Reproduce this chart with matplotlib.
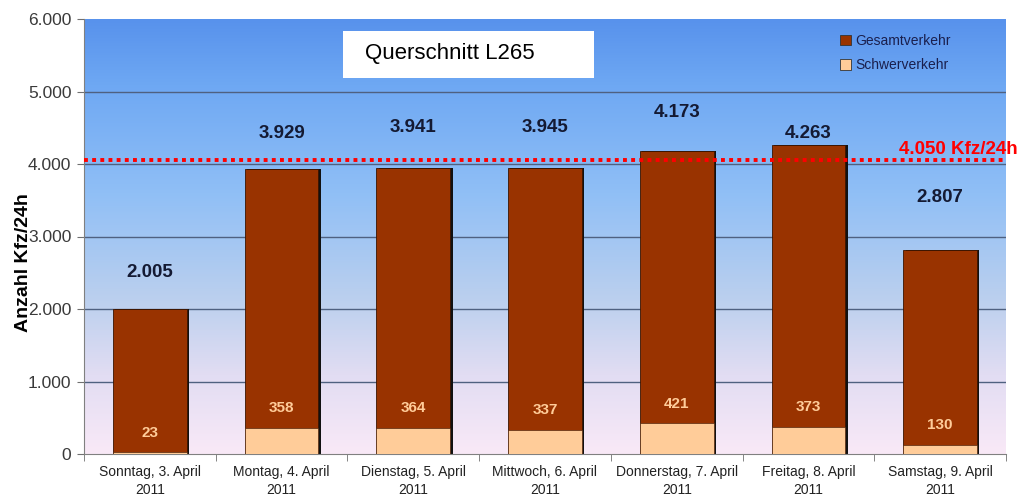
import numpy as np
import matplotlib
matplotlib.use("Agg")
import matplotlib.pyplot as plt
from matplotlib.colors import LinearSegmentedColormap
from matplotlib.patches import Rectangle, Patch

plt.rcParams["font.family"] = ["Liberation Sans", "DejaVu Sans"]

days = ["Sonntag, 3. April\n2011", "Montag, 4. April\n2011", "Dienstag, 5. April\n2011",
        "Mittwoch, 6. April\n2011", "Donnerstag, 7. April\n2011", "Freitag, 8. April\n2011",
        "Samstag, 9. April\n2011"]
gesamt = [2005, 3929, 3941, 3945, 4173, 4263, 2807]
schwer = [23, 358, 364, 337, 421, 373, 130]
grenzwert = 4050

def de(v): return f"{v:,}".replace(",", ".")

BROWN = "#993300"
PEACH = "#FFCC99"
NAVY = "#141a33"

fig = plt.figure(figsize=(10.19, 4.97), dpi=100)
ax = fig.add_axes([84/1019, 43/497, 922/1019, 435/497])

x = np.arange(len(days))
ax.set_xlim(-0.5, len(days) - 0.5)
ax.set_ylim(0, 6000)

# background gradient
cmap = LinearSegmentedColormap.from_list("bg", [
    (0.0, "#f9e9f7"), (0.18, "#e2ddf3"), (0.35, "#bcd0ee"),
    (0.6, "#90bff6"), (0.85, "#6ea8f3"), (1.0, "#5892ec")])
grad = np.linspace(0, 1, 256).reshape(-1, 1)
ax.imshow(grad, cmap=cmap, origin="lower", aspect="auto",
          extent=(-0.5, len(days) - 0.5, 0, 6000), zorder=0)

for yv in range(1000, 6000, 1000):
    ax.axhline(yv, color="#4f6180", lw=1.0, zorder=1)

w = 0.56
ax.bar(x + 0.018, gesamt, width=w, color="#111111", zorder=2)
ax.bar(x, gesamt, width=w, color=BROWN, edgecolor="#3a1400", linewidth=0.6, zorder=3)
ax.bar(x, schwer, width=w, color=PEACH, edgecolor="#3a1400", linewidth=0.4, zorder=4)

# value labels (per-bar vertical offsets in points)
tot_off = [26, 26, 29, 29, 28, 8, 38]
for xi, g, o in zip(x, gesamt, tot_off):
    ax.annotate(de(g), (xi, g), xytext=(0, o), textcoords="offset points",
                ha="center", va="center", fontsize=13.5, fontweight="bold", color=NAVY, zorder=6)
for xi, s in zip(x, schwer):
    ax.text(xi, s + 270, de(s), ha="center", va="center", fontsize=11,
            fontweight="bold", color=PEACH, zorder=6)

ax.axhline(grenzwert, color="#ff0000", lw=2.8, ls=(0, (1, 1.1)), zorder=5)
fig.text(1018/1019, 1 - 150/497, "4.050 Kfz/24h", ha="right", va="center",
         fontsize=13.5, fontweight="bold", color="#ff0000")

ax.set_yticks(range(0, 6001, 1000))
ax.set_yticklabels([de(v) for v in range(0, 6001, 1000)], fontsize=12.5, color="#3a3a3a")
ax.set_xticks(x)
ax.set_xticklabels(days, fontsize=10, color="#222222", linespacing=1.35)
ax.tick_params(axis="x", length=0, pad=8)
ax.tick_params(axis="y", length=5, color="#707070", pad=4)
ax.set_xticks(np.arange(-0.5, len(days)), minor=True)
ax.tick_params(axis="x", which="minor", length=5, color="#707070")
ax.set_ylabel("Anzahl Kfz/24h", fontsize=14, fontweight="bold")
ax.yaxis.set_label_coords(-52/922, 0.44)
for sp in ["top", "right"]:
    ax.spines[sp].set_visible(False)
for sp in ["left", "bottom"]:
    ax.spines[sp].set_color("#808080")

# title box
fig.patches.append(Rectangle((343/1019, 1 - 78/497), 251/1019, 47/497,
                             transform=fig.transFigure, facecolor="white", edgecolor="none", zorder=5))
fig.text(365/1019, 1 - 54/497, "Querschnitt L265", ha="left", va="center",
         fontsize=16, color="black", zorder=6)

handles = [Patch(facecolor=BROWN, edgecolor="#333333", lw=0.6),
           Patch(facecolor=PEACH, edgecolor="#333333", lw=0.6)]
leg = ax.legend(handles, ["Gesamtverkehr", "Schwerverkehr"], loc="upper left",
                bbox_to_anchor=(830/1019, 1 - 24/497), bbox_transform=fig.transFigure,
                frameon=False, fontsize=10, handlelength=0.8, handleheight=0.8,
                handletextpad=0.3, labelspacing=0.75, borderpad=0.2)
for t in leg.get_texts():
    t.set_color("#1a1f4d")

fig.savefig("out.png", dpi=100)
